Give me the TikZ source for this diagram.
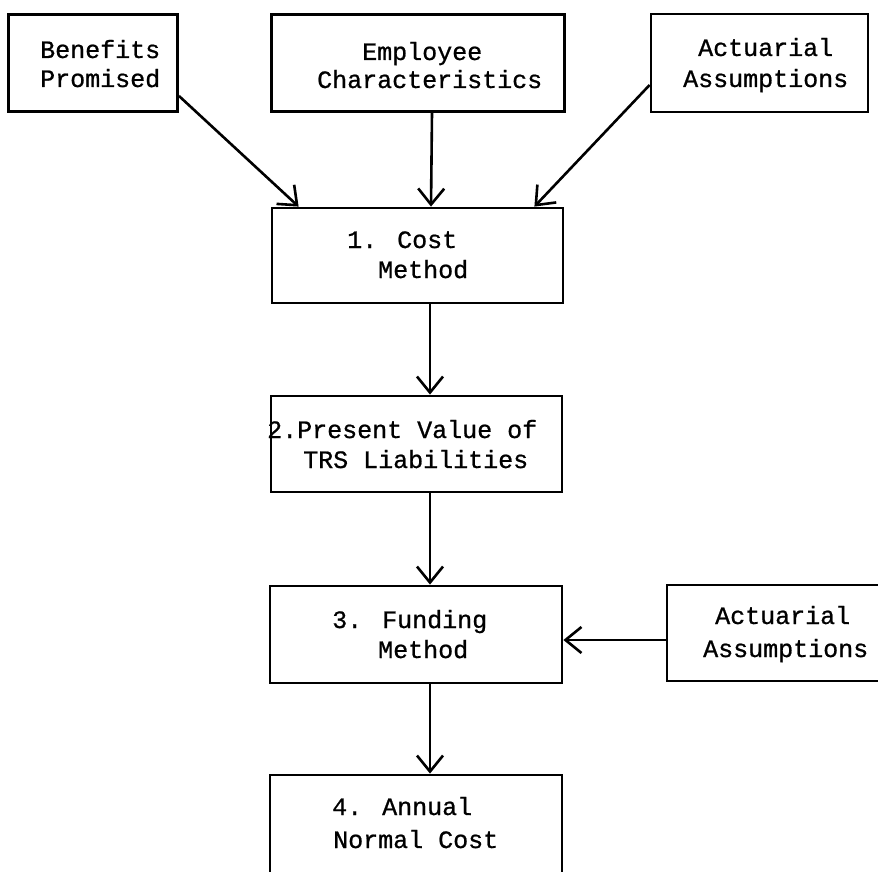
\documentclass[tikz,border=0pt]{standalone}
\usepackage{fontspec}
\newfontfamily\twfont{Liberation Mono}[FakeBold=0.8]
\usetikzlibrary{arrows.meta}
\begin{document}
\begin{tikzpicture}[x=1pt,y=-1pt,
  box/.style={draw=black,line width=2.8pt,rectangle,inner sep=0pt},
  lbl/.style={anchor=base west,inner sep=0pt,font=\fontsize{25}{30}\selectfont\twfont},
  conn/.style={line width=2.6pt,-{Straight Barb[length=16pt,width=26pt,line width=2.6pt]}}]
\useasboundingbox[fill=white] (0,0) rectangle (878,872);
% boxes
\node[box,minimum width=169pt,minimum height=97pt] (ben) at (93,63) {};
\node[box,minimum width=293pt,minimum height=97pt] (emp) at (418,63) {};
\node[box,minimum width=217pt,minimum height=98pt] (act1) at (759.5,63) {};
\node[box,minimum width=291pt,minimum height=95pt] (cost) at (417.5,255.5) {};
\node[box,minimum width=291pt,minimum height=96pt] (pv) at (416.5,444) {};
\node[box,minimum width=292pt,minimum height=97pt] (fund) at (416,634.5) {};
\node[box,minimum width=223pt,minimum height=96pt] (act2) at (778.5,633) {};
\node[box,minimum width=292pt,minimum height=120pt] (ann) at (416,835) {};
% labels
\node[lbl] (t1a) at (40,58) {Benefits};
\node[lbl] (t1b) at (40,87) {Promised};
\node[lbl] (t2a) at (362,60) {Employee};
\node[lbl] (t2b) at (317,88) {Characteristics};
\node[lbl] (t3a) at (698,56) {Actuarial};
\node[lbl] (t3b) at (683,87) {Assumptions};
\node[lbl] (t4a) at (347,248) {1. Cost};
\node[lbl] (t4b) at (378,278) {Method};
\node[lbl] (t5a) at (267,438) {2.Present Value of};
\node[lbl] (t5b) at (303,468) {TRS Liabilities};
\node[lbl] (t6a) at (332,628) {3. Funding};
\node[lbl] (t6b) at (378,658) {Method};
\node[lbl] (t7a) at (715,624) {Actuarial};
\node[lbl] (t7b) at (703,657) {Assumptions};
\node[lbl] (t8a) at (332,815) {4. Annual};
\node[lbl] (t8b) at (333,848) {Normal Cost};
% connectors
\draw[conn] ([yshift=17pt]ben.south east) -- ([xshift=28pt]cost.north west);
\draw[conn] ([xshift=14pt]emp.south) -- ([xshift=13.5pt]cost.north);
\draw[conn] ([yshift=-22pt]act1.west) -- ([xshift=-30pt]cost.north east);
\draw[conn] ([xshift=12.5pt]cost.south) -- ([xshift=13.5pt]pv.north);
\draw[conn] ([xshift=13.5pt]pv.south) -- ([xshift=14pt]fund.north);
\draw[conn] ([xshift=14pt]fund.south) -- ([xshift=14pt]ann.north);
\draw[conn] ([yshift=-7pt]act2.west) -- ([yshift=-5.5pt]fund.east);
\end{tikzpicture}
\end{document}
